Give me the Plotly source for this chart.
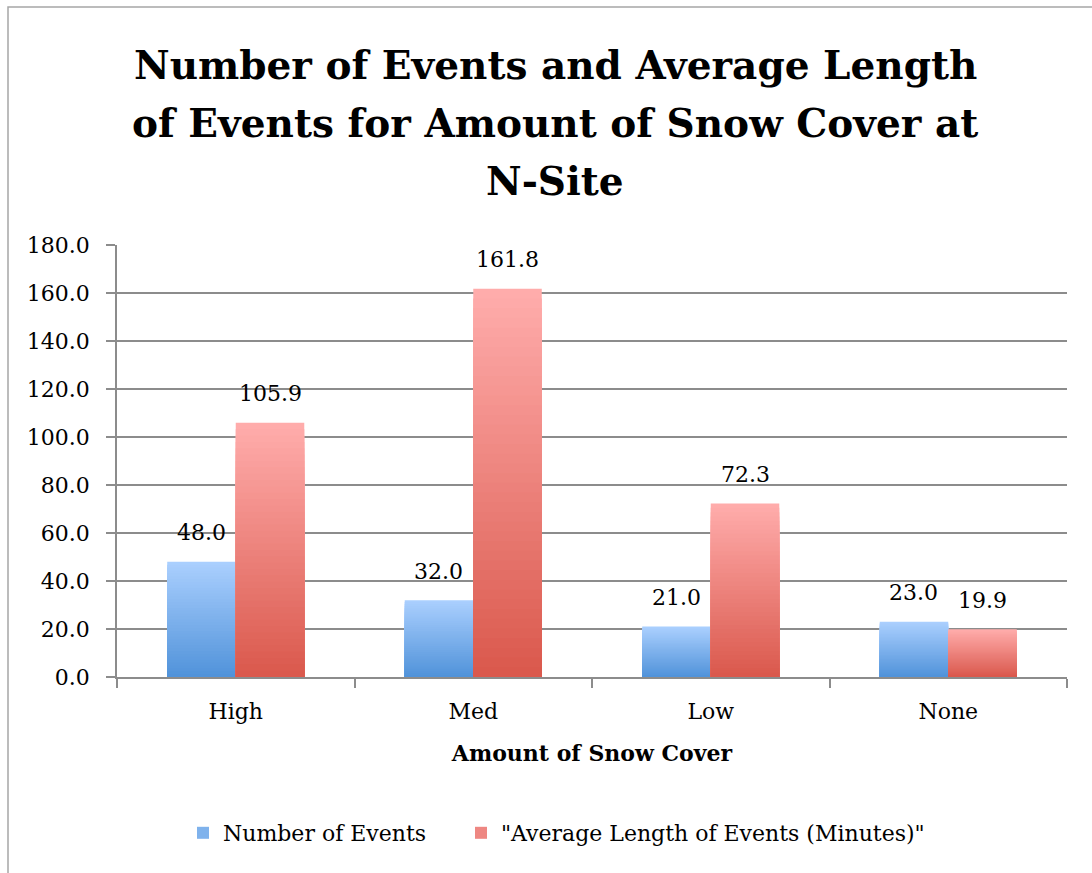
import plotly.graph_objects as go

# Chart data
categories = ["High", "Med", "Low", "None"]
num_events = [48.0, 32.0, 21.0, 23.0]
avg_length = [105.9, 161.8, 72.3, 19.9]
series_names = ["Number of Events", '"Average Length of Events (Minutes)"']
title_lines = ["Number of Events and Average Length",
               "of Events for Amount of Snow Cover at",
               "N-Site"]
y_tick_vals = [0, 20, 40, 60, 80, 100, 120, 140, 160, 180]
y_tick_text = [f"{v:.1f}" for v in y_tick_vals]

FONT = "DejaVu Serif"
N_STEPS = 40

# plot-area geometry in pixels
PLOT_L, PLOT_R, PLOT_T, PLOT_B = 117, 1067, 245, 677
PW, PH = PLOT_R - PLOT_L, PLOT_B - PLOT_T


def px_x(x):
    return (x - PLOT_L) / PW


def px_y(y):
    return (PLOT_B - y) / PH


def lerp_color(c1, c2, t):
    a = [int(c1[i:i + 2], 16) for i in (1, 3, 5)]
    b = [int(c2[i:i + 2], 16) for i in (1, 3, 5)]
    return "rgb({},{},{})".format(*[round(a[k] + (b[k] - a[k]) * t) for k in range(3)])


def gradient_bars(values, group, top_color, bottom_color, name, legend_color, legend_id):
    """Overlapping bars of shrinking height give a vertical light-to-dark fill."""
    traces = []
    for i in range(N_STEPS):
        frac = (N_STEPS - i) / N_STEPS
        traces.append(go.Bar(
            x=categories,
            y=[v * frac for v in values],
            offsetgroup=group,
            marker=dict(color=lerp_color(top_color, bottom_color, i / (N_STEPS - 1)),
                        line=dict(width=0)),
            showlegend=False,
            hoverinfo="skip",
        ))
    # legend entry
    traces.append(go.Bar(
        x=categories, y=[None] * len(categories), offsetgroup=group, name=name,
        marker=dict(color=legend_color, line=dict(width=0)), showlegend=True,
        legend=legend_id,
    ))
    return traces


fig = go.Figure()
for t in gradient_bars(num_events, "a", "#aacffe", "#5193da", series_names[0], "#7fb2ec", "legend"):
    fig.add_trace(t)
for t in gradient_bars(avg_length, "b", "#ffacab", "#da594d", series_names[1], "#ee8782", "legend2"):
    fig.add_trace(t)

annotations = []
# title, one line per annotation
for line, yc in zip(title_lines, (65, 123, 181)):
    annotations.append(dict(
        x=px_x(555), y=px_y(yc), xref="paper", yref="paper", text=f"<b>{line}</b>",
        showarrow=False, xanchor="center", yanchor="middle",
        font=dict(family=FONT, size=39, color="#000"),
    ))

# value labels above each bar
for vals, shift in ((num_events, -34.3), (avg_length, 34.3)):
    for c, v in zip(categories, vals):
        annotations.append(dict(
            x=c, y=v, xref="x", yref="y", text=f"{v:.1f}", showarrow=False,
            xshift=shift, yshift=29, yanchor="middle",
            font=dict(family=FONT, size=22, color="#000"),
        ))

legend_style = dict(
    orientation="h", xanchor="left", y=px_y(833), yanchor="middle",
    font=dict(family=FONT, size=22, color="#000"), itemwidth=30,
    bgcolor="rgba(0,0,0,0)",
)

fig.update_layout(
    width=1092, height=873,
    paper_bgcolor="white", plot_bgcolor="white",
    margin=dict(l=PLOT_L, r=1092 - PLOT_R, t=PLOT_T, b=873 - PLOT_B),
    barmode="group", bargap=0.423, bargroupgap=0,
    font=dict(family=FONT, size=22, color="#000"),
    showlegend=True,
    legend=dict(x=px_x(183), **legend_style),
    legend2=dict(x=px_x(461), **legend_style),
    annotations=annotations,
    shapes=[dict(
        type="rect", xref="paper", yref="paper",
        x0=px_x(8), x1=1.2, y0=-1.0, y1=px_y(7),
        line=dict(color="#a6a6a6", width=1.5), fillcolor="rgba(0,0,0,0)", layer="below",
    )],
)

fig.update_xaxes(
    type="category", categoryorder="array", categoryarray=categories,
    showline=True, linecolor="#8c8c8c", linewidth=1.5,
    ticks="outside", tickson="boundaries", ticklen=9, tickcolor="#8c8c8c", tickwidth=1.5,
    ticklabelstandoff=14,
    showgrid=False, tickfont=dict(family=FONT, size=22),
    title=dict(text="<b>Amount of Snow Cover</b>", font=dict(family=FONT, size=22), standoff=22),
)
fig.update_yaxes(
    range=[0, 180], tickvals=y_tick_vals, ticktext=y_tick_text,
    showline=True, linecolor="#8c8c8c", linewidth=1.5,
    ticks="outside", ticklen=9, tickcolor="#8c8c8c", tickwidth=1.5,
    ticklabelstandoff=12,
    showgrid=True, gridcolor="#8c8c8c", gridwidth=1.5, zeroline=False,
    tickfont=dict(family=FONT, size=22),
)

fig.write_html("out.html")
